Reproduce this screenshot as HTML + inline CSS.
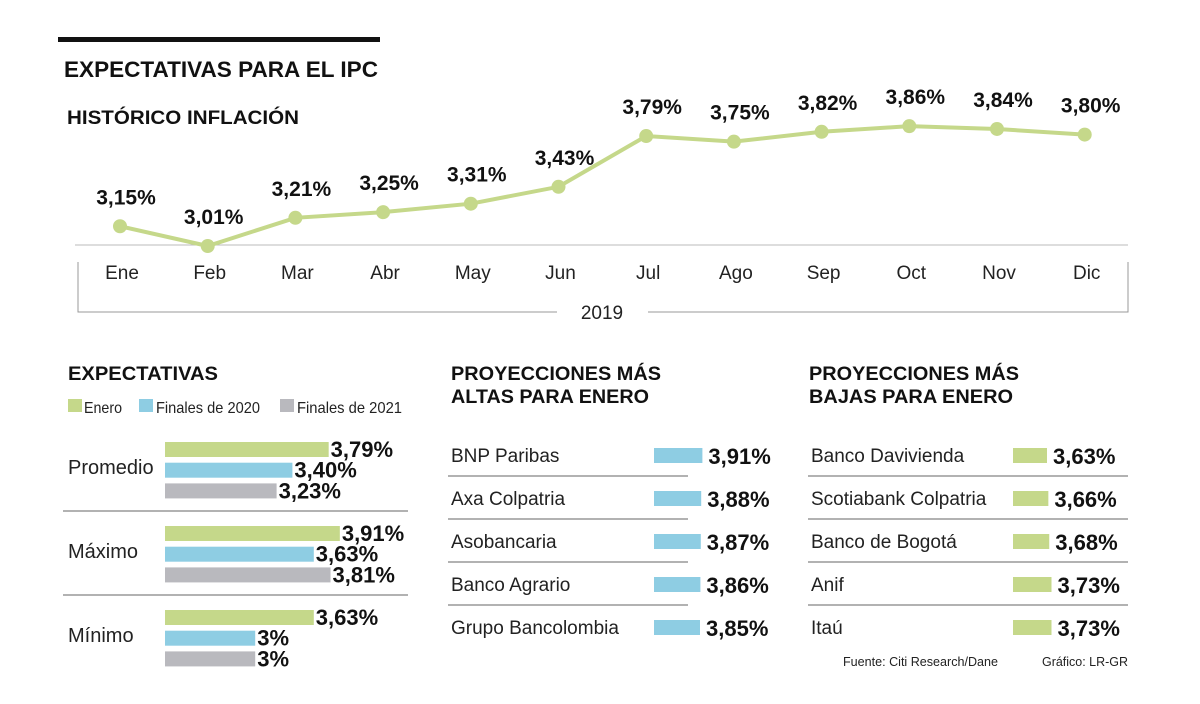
<!DOCTYPE html>
<html><head><meta charset="utf-8"><style>
html,body{margin:0;padding:0;background:#fff}
svg{display:block;font-family:"Liberation Sans","DejaVu Sans",sans-serif}
.b{font-weight:bold;fill:#111}
.l{fill:#222}
</style></head><body>
<svg id="c" width="1200" height="704" viewBox="0 0 1200 704">
<rect x="58" y="37" width="322" height="5" fill="#111"/>
<text x="64" y="77" class="b" font-size="22" textLength="314" lengthAdjust="spacingAndGlyphs">EXPECTATIVAS PARA EL IPC</text>
<text x="67" y="124" class="b" font-size="19" textLength="232" lengthAdjust="spacingAndGlyphs">HISTÓRICO INFLACIÓN</text>
<line x1="75" y1="245" x2="1128" y2="245" stroke="#bbb" stroke-width="1"/>
<g id="line"></g>
<path d="M78 262V312H557M648 312H1128V262" fill="none" stroke="#999" stroke-width="1"/>
<text x="602" y="319" text-anchor="middle" font-size="19" class="l">2019</text>

<text x="68" y="380" class="b" font-size="19" textLength="150" lengthAdjust="spacingAndGlyphs">EXPECTATIVAS</text>
<g>
<rect x="68" y="399" width="14" height="13" fill="#c5d88a"/>
<text x="84" y="413" font-size="16" class="l" textLength="38" lengthAdjust="spacingAndGlyphs">Enero</text>
<rect x="139" y="399" width="14" height="13" fill="#8ecde3"/>
<text x="156" y="413" font-size="16" class="l" textLength="104" lengthAdjust="spacingAndGlyphs">Finales de 2020</text>
<rect x="280" y="399" width="14" height="13" fill="#b9b9be"/>
<text x="297" y="413" font-size="16" class="l" textLength="105" lengthAdjust="spacingAndGlyphs">Finales de 2021</text>
</g>
<g id="groups"></g>

<text x="451" y="380" class="b" font-size="19" textLength="210" lengthAdjust="spacingAndGlyphs">PROYECCIONES MÁS</text>
<text x="451" y="403" class="b" font-size="19" textLength="198" lengthAdjust="spacingAndGlyphs">ALTAS PARA ENERO</text>
<text x="809" y="380" class="b" font-size="19" textLength="210" lengthAdjust="spacingAndGlyphs">PROYECCIONES MÁS</text>
<text x="809" y="403" class="b" font-size="19" textLength="204" lengthAdjust="spacingAndGlyphs">BAJAS PARA ENERO</text>
<g id="high"></g>
<g id="low"></g>
<text x="843" y="666" font-size="13" class="l" textLength="155" lengthAdjust="spacingAndGlyphs">Fuente: Citi Research/Dane</text>
<text x="1042" y="666" font-size="13" class="l" textLength="86" lengthAdjust="spacingAndGlyphs">Gráfico: LR-GR</text>
</svg>
<script>
const months=["Ene","Feb","Mar","Abr","May","Jun","Jul","Ago","Sep","Oct","Nov","Dic"];
const inflation=[3.15,3.01,3.21,3.25,3.31,3.43,3.79,3.75,3.82,3.86,3.84,3.80];
const groupNames=["Promedio","Máximo","Mínimo"];
const enero=[3.79,3.91,3.63];
const finales2020=[3.40,3.63,3.00];
const finales2021=[3.23,3.81,3.00];
const highBanks=["BNP Paribas","Axa Colpatria","Asobancaria","Banco Agrario","Grupo Bancolombia"];
const highValues=[3.91,3.88,3.87,3.86,3.85];
const lowBanks=["Banco Davivienda","Scotiabank Colpatria","Banco de Bogotá","Anif","Itaú"];
const lowValues=[3.63,3.66,3.68,3.73,3.73];

const NS="http://www.w3.org/2000/svg";
function mk(p,t,a,txt){const e=document.createElementNS(NS,t);for(const k in a)e.setAttribute(k,a[k]);if(txt!==undefined)e.textContent=txt;p.appendChild(e);return e;}
function fmt(v){return (Number.isInteger(v)?String(v):v.toFixed(2).replace('.',','))+'%';}
function fmtG(v){return (Math.abs(v-Math.round(v))<1e-9?String(Math.round(v)):v.toFixed(2).replace('.',','))+'%';}
const xS=i=>120+i*87.7;
const yS=v=>246-(v-3.01)*141;
const lg=document.getElementById('line');
let d=inflation.map((v,i)=>(i?'L':'M')+xS(i)+' '+yS(v)).join(' ');
const path=mk(lg,'path',{d:d,fill:'none',stroke:'#c5d88a','stroke-width':4});


inflation.forEach((v,i)=>{
  const c=mk(lg,'circle',{cx:xS(i),cy:yS(v),r:7,fill:'#c5d88a'});
  
  
  const t=mk(lg,'text',{x:xS(i)+6,y:yS(v)-22,'text-anchor':'middle','font-size':21,class:'b'},fmt(v));
  
  
  const m=mk(lg,'text',{x:xS(i)+2,y:279,'text-anchor':'middle','font-size':19,class:'l'},months[i]);
  
  
});

const gg=document.getElementById('groups');
const wS=v=>(v-2.03)*93;
const series=[[enero,'#c5d88a','enero'],[finales2020,'#8ecde3','2020'],[finales2021,'#b9b9be','2021']];
groupNames.forEach((n,g)=>{
  const top=442+g*84;
  const t=mk(gg,'text',{x:68,y:top+32,'font-size':20,class:'l'},n);
  
  
  series.forEach((s,k)=>{
    const v=s[0][g],y=top+k*20.7;
    const r=mk(gg,'rect',{x:165,y:y,width:wS(v),height:15,fill:s[1]});
    
    
    const tv=mk(gg,'text',{x:165+wS(v)+2,y:y+15,'font-size':22,class:'b'},fmtG(v));
    
    
  });
  if(g<2){const l=mk(gg,'line',{x1:63,x2:408,y1:top+69,y2:top+69,stroke:'#999','stroke-width':1.5});
    
    }
});

function table(id,names,vals,x0,x1,bx,color,wf){
  const g=document.getElementById(id);
  names.forEach((n,i)=>{
    const y=455+i*43;
    const t=mk(g,'text',{x:x0+3,y:y+7,'font-size':19,class:'l'},n);
    
    
    const w=wf(vals[i]);
    const r=mk(g,'rect',{x:bx,y:y-7,width:w,height:15,fill:color});
    
    
    const tv=mk(g,'text',{x:bx+w+6,y:y+9,'font-size':22,class:'b'},fmt(vals[i]));
    
    
    if(i<4){const l=mk(g,'line',{x1:x0,x2:x1,y1:y+21,y2:y+21,stroke:'#999','stroke-width':1.5});
      
      }
  });
}
table('high',highBanks,highValues,448,688,654,'#8ecde3',v=>46+(v-3.85)*40);
table('low',lowBanks,lowValues,808,1128,1013,'#c5d88a',v=>34+(v-3.63)*45);
</script>
</body></html>
